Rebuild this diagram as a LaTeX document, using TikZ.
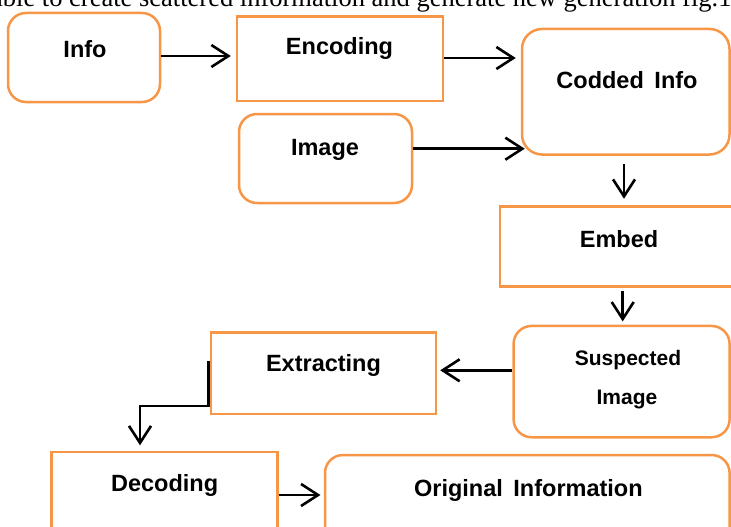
\documentclass[tikz,border=0pt]{standalone}
\usepackage{fontspec}
\setmainfont{Liberation Serif}
\newfontfamily\boxfont{Liberation Sans}
\usetikzlibrary{arrows.meta}
\definecolor{boxorange}{RGB}{247,150,70}
\tikzset{
  boxbase/.style={draw=boxorange, line width=2.5pt, inner sep=0pt, fill=white},
  rbox/.style={boxbase, rounded corners=18pt},
  sbox/.style={boxbase},
  lbl/.style={font=\boxfont\bfseries\fontsize{23.5}{27}\selectfont, inner sep=0pt, anchor=center},
  lblsmall/.style={font=\boxfont\bfseries\fontsize{21}{25}\selectfont, inner sep=0pt, anchor=center},
  arr/.style={draw=black, line width=2.6pt, -{Straight Barb[length=17pt,width=22pt,line width=2.6pt]}}
}
\begin{document}
\begin{tikzpicture}[x=1pt,y=-1pt]
\useasboundingbox (0,0) rectangle (731,527);
\clip (0,0) rectangle (731,527);
% cut-off caption line at the top
\node[anchor=base west, inner sep=0pt, font=\fontsize{26.5}{30}\selectfont] (cap) at (-9,6.2) {able to create scattered information and generate new generation fig.1};
% boxes
\node[rbox, minimum width=152pt, minimum height=89pt] (info) at (84,57.5) {};
\node[sbox, minimum width=206pt, minimum height=84.3pt] (enc) at (340,58.8) {};
\node[rbox, rounded corners=20pt, minimum width=207.5pt, minimum height=125.5pt] (codded) at (625.75,91.75) {};
\node[rbox, minimum width=173pt, minimum height=89pt] (image) at (325.5,158.5) {};
\node[sbox, minimum width=260pt, minimum height=80pt] (embed) at (630,246.7) {};
\node[rbox, minimum width=216pt, minimum height=111.3pt] (susp) at (621.6,381.6) {};
\node[sbox, minimum width=225pt, minimum height=81.3pt] (extract) at (323.5,373.3) {};
\node[sbox, minimum width=226pt, minimum height=107.7pt] (decode) at (164.3,506) {};
\node[rbox, minimum width=404.6pt, minimum height=105pt] (orig) at (527.3,507.5) {};
% texts
\node[lbl] (tinfo) at (85,49) {Info};
\node[lbl] (tenc) at (339.5,48.5) {Encoding};
\node[lbl] (tcodded) at (627,80.5) {Codded\hspace{0.45em}Info};
\node[lbl] (timage) at (325,150) {Image};
\node[lbl] (tembed) at (619,238.7) {Embed};
\node[lblsmall] (tsusp1) at (628,360.5) {Suspected};
\node[lblsmall] (tsusp2) at (627,399) {Image};
\node[lbl] (textract) at (323.5,365.7) {Extracting};
\node[lbl] (tdecode) at (164.6,485) {Decoding};
\node[lbl] (torig) at (528.4,490.3) {Original\hspace{0.45em}Information};
% connectors
\coordinate (bend) at (140,406);
\draw[arr, shorten >=5pt] (info.east |- 0,56) -- (enc.west |- 0,56);
\draw[arr, shorten >=5pt] (enc.east |- 0,58) -- (codded.west |- 0,58);
\draw[arr, shorten >=-4pt] (image.east |- 0,148.7) -- (codded.west |- 0,148.7);
\draw[arr, shorten <=8pt, shorten >=6.7pt] (codded.south -| 624,0) -- (embed.north -| 624,0);
\draw[arr, shorten <=3.3pt, shorten >=3.3pt] (embed.south -| 622.7,0) -- (susp.north -| 622.7,0);
\draw[arr, shorten >=3pt] (susp.west |- 0,370.3) -- (extract.east |- 0,370.3);
\draw[arr, shorten >=5.6pt] ([xshift=-1.2pt]extract.west |- 0,360.7) |- (bend) -- (bend |- decode.north);
\draw[arr, shorten >=3.3pt] (decode.east |- 0,495) -- (orig.west |- 0,495);
\end{tikzpicture}
\end{document}
